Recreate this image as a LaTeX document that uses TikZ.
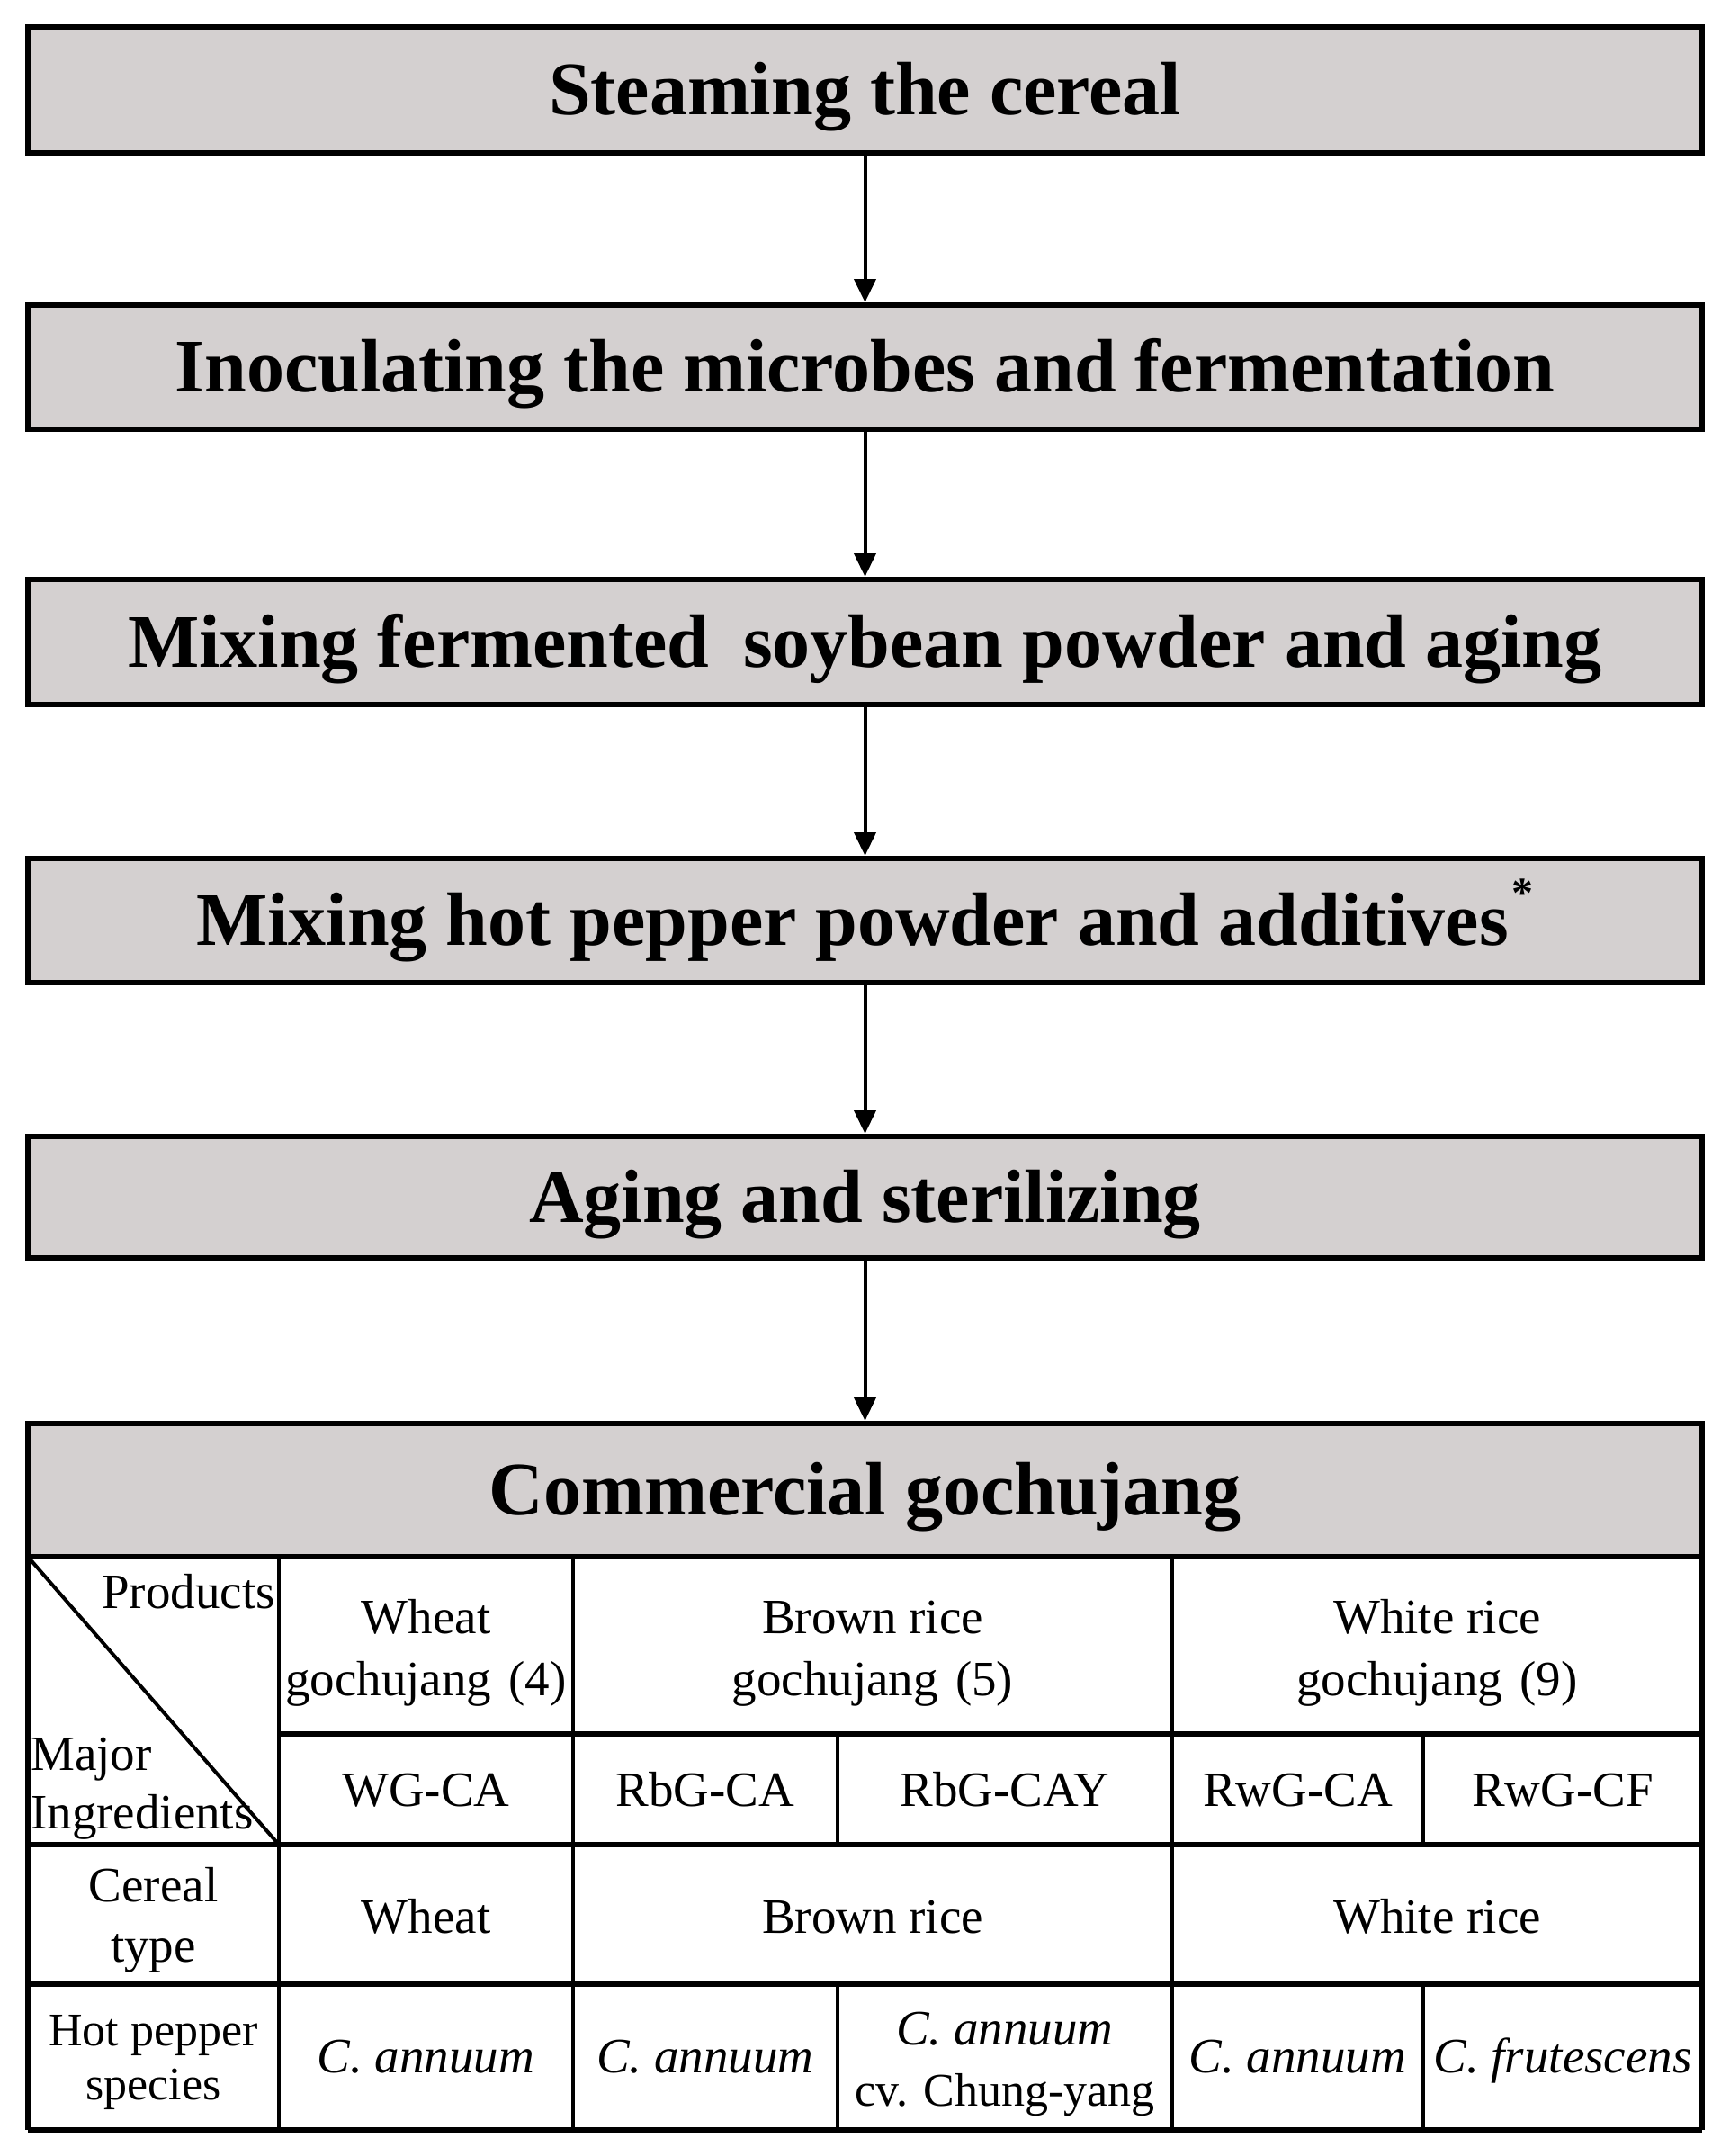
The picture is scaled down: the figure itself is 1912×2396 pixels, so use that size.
\documentclass[tikz,border=0pt]{standalone}
\usepackage{fontspec}
\setmainfont{Liberation Serif}
\usetikzlibrary{arrows.meta}
\definecolor{boxgrey}{RGB}{212,208,208}
\newcommand\bigbf{\fontsize{84}{100}\selectfont\bfseries}
\newcommand\tabfont{\fontsize{55}{66}\selectfont}
\newcommand\tabsmall{\fontsize{52}{62}\selectfont}
\newcommand\starmark{\hspace{4pt}\raisebox{42pt}{\fontsize{48}{48}\selectfont *}}
\begin{document}
\begin{tikzpicture}[x=1pt,y=-1pt,
  stepbox/.style={draw=black, line width=6pt, fill=boxgrey, minimum width=1861pt,
    inner sep=0pt, font=\bigbf, text height=55.6pt, text depth=0pt},
  flow/.style={line width=4pt, -{Triangle[length=26pt,width=24pt]}},
  cell/.style={font=\tabfont, anchor=base, inner sep=0pt},
  hrule/.style={line width=6pt},
  vrule/.style={line width=4pt}]
\useasboundingbox (0,0) rectangle (1912,2396);
\fill[white] (0,0) rectangle (1912,2396);

% process steps
\node[stepbox, minimum height=140pt] (s1) at (961.5,100) {Steaming the cereal};
\node[stepbox, minimum height=138pt] (s2) at (961.5,408) {Inoculating the microbes and fermentation};
\node[stepbox, minimum height=139pt] (s3) at (961.5,713.5) {Mixing fermented\hspace{0.45em}soybean powder and aging};
\node[stepbox, minimum height=138pt] (s4) at (961.5,1023) {Mixing hot pepper powder and additives\starmark};
\node[stepbox, minimum height=135pt] (s5) at (961.5,1330.5) {Aging and sterilizing};
\node[stepbox, minimum height=148pt] (s6) at (961.5,1656) {Commercial gochujang};

\draw[flow] (s1.south) -- (s2.north);
\draw[flow] (s2.south) -- (s3.north);
\draw[flow] (s3.south) -- (s4.north);
\draw[flow] (s4.south) -- (s5.north);
\draw[flow] (s5.south) -- (s6.north);

% table grid
\draw[hrule] (31,1730) -- (1892,1730);
\draw[hrule] (310,1927) -- (1892,1927);
\draw[hrule] (31,2050) -- (1892,2050);
\draw[hrule] (31,2205) -- (1892,2205);
\draw[hrule] (31,2367) -- (1892,2367);
\draw[hrule] (31,1582) -- (31,2367);
\draw[hrule] (1892,1582) -- (1892,2367);
\draw[vrule] (310,1730) -- (310,2367);
\draw[vrule] (637,1730) -- (637,2367);
\draw[vrule] (1303,1730) -- (1303,2367);
\draw[vrule] (931,1927) -- (931,2050);
\draw[vrule] (931,2205) -- (931,2367);
\draw[vrule] (1582,1927) -- (1582,2050);
\draw[vrule] (1582,2205) -- (1582,2367);
\draw[vrule] (31,1730) -- (310,2050);

% header cell
\node[cell, anchor=base east] (prod) at (306,1787) {Products};
\node[cell, anchor=base west] (maj) at (34,1967) {Major};
\node[cell, anchor=base west] (ingr) at (34,2032) {Ingredients};

% product row
\node[cell] (wa) at (473.5,1815) {Wheat};
\node[cell] (wb) at (473.5,1884) {gochujang\hspace{0.35em}(4)};
\node[cell] (ba) at (970,1815) {Brown rice};
\node[cell] (bb) at (970,1884) {gochujang\hspace{0.35em}(5)};
\node[cell] (ra) at (1597.5,1815) {White rice};
\node[cell] (rb) at (1597.5,1884) {gochujang\hspace{0.35em}(9)};

% codes row
\node[cell] (c1) at (473.5,2007) {WG-CA};
\node[cell] (c2) at (784,2007) {RbG-CA};
\node[cell] (c3) at (1117,2007) {RbG-CAY};
\node[cell] (c4) at (1442.5,2007) {RwG-CA};
\node[cell] (c5) at (1737,2007) {RwG-CF};

% cereal row
\node[cell] (cta) at (170.5,2113) {Cereal};
\node[cell] (ctb) at (170.5,2180) {type};
\node[cell] (ct1) at (473.5,2148) {Wheat};
\node[cell] (ct2) at (970,2148) {Brown rice};
\node[cell] (ct3) at (1597.5,2148) {White rice};

% hot pepper row
\node[cell, font=\tabsmall] (hpa) at (170.5,2273) {Hot pepper};
\node[cell, font=\tabsmall] (hpb) at (170.5,2333) {species};
\node[cell] (h1) at (473.5,2303) {\textit{C. annuum}};
\node[cell] (h2) at (784,2303) {\textit{C. annuum}};
\node[cell] (h3a) at (1117,2272) {\textit{C. annuum}};
\node[cell, font=\tabsmall] (h3b) at (1117,2340) {cv. Chung-yang};
\node[cell] (h4) at (1442.5,2303) {\textit{C. annuum}};
\node[cell] (h5) at (1737,2303) {\textit{C. frutescens}};
\end{tikzpicture}
\end{document}
